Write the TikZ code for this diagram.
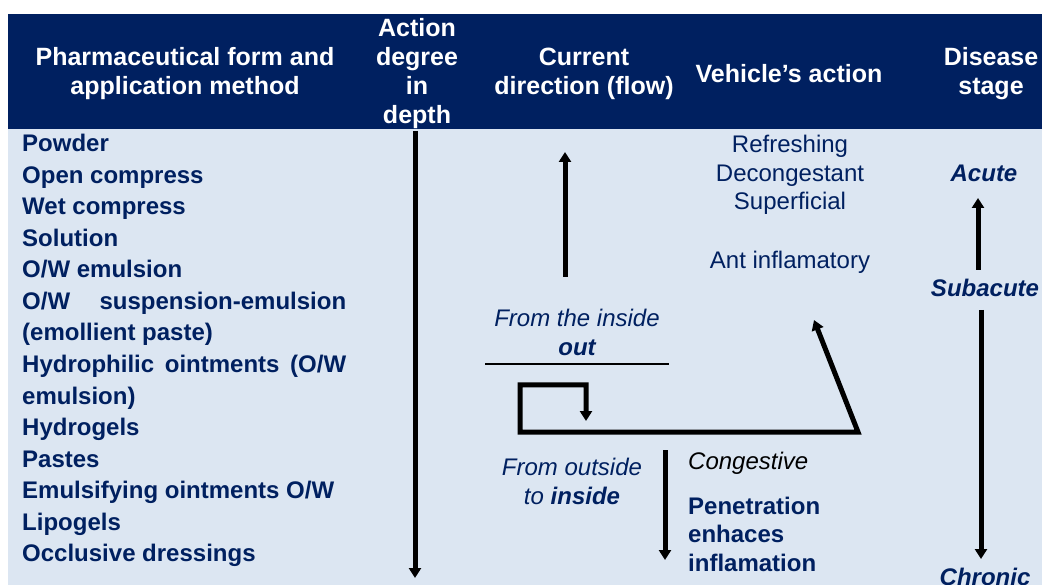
\documentclass[tikz,border=0pt]{standalone}
\usepackage{fontspec}
\setmainfont{Liberation Sans}
\usetikzlibrary{arrows.meta}
\definecolor{navy}{HTML}{002060}
\definecolor{paleblue}{HTML}{DCE6F2}
\tikzset{
    flow/.style={line width=5pt,-{Triangle[length=10pt,width=12pt]}},
    txt/.style={inner sep=0pt,text=navy,font=\fontsize{24}{28.5}\selectfont},
    hdr/.style={inner sep=0pt,text=white,align=center,font=\bfseries\fontsize{25}{29}\selectfont}
}
\begin{document}
\begin{tikzpicture}[x=1pt,y=-1pt]
\useasboundingbox (0,0) rectangle (1042,585);
\fill[white] (0,0) rectangle (1042,585);
\fill[navy] (8,14) rectangle (1042,129);
\fill[paleblue] (8,129) rectangle (1042,585);
% header
\node[hdr] (hform) at (185,74) {Pharmaceutical form and\\application method};
\node[hdr] (hdepth) at (417,74) {Action\\degree\\in\\depth};
\node[hdr] (hflow) at (584,74) {Current\\direction (flow)};
\node[hdr] (hvehicle) at (789,74) {Vehicle’s action};
\node[hdr] (hstage) at (991,74) {Disease\\stage};
% forms
\foreach \i/\t in {0/Powder, 1/Open compress, 2/Wet compress, 3/Solution, 4/{O/W emulsion},
    5/{\makebox[324pt][s]{O/W\hfill suspension-emulsion}}, 6/(emollient paste),
    7/{\makebox[324pt][s]{Hydrophilic\hfill ointments\hfill (O/W}}, 8/emulsion), 9/Hydrogels,
    10/Pastes, 11/{Emulsifying ointments O/W}, 12/Lipogels, 13/Occlusive dressings}{
    \node[txt,font=\bfseries\fontsize{24}{28.5}\selectfont,anchor=base west] (form\i) at (22,152+31.5*\i) {\t};
}
% depth
\coordinate (dtop) at (415,131);
\coordinate (dbot) at (415,578);
\draw[flow] (dtop) -- (dbot);
% current direction
\coordinate (otail) at (565,277);
\coordinate (ohead) at (565,152);
\draw[flow] (otail) -- (ohead);
\node[txt,align=center,font=\itshape\fontsize{24}{29}\selectfont] (inout) at (577,332) {From the inside\\\textbf{out}};
\coordinate (sepl) at (485,364);
\coordinate (sepr) at (669,364);
\draw[line width=2pt] (sepl) -- (sepr);
\coordinate (l1) at (586,421);
\coordinate (l2) at (586,385);
\coordinate (l3) at (520,385);
\coordinate (l4) at (520,432);
\coordinate (l5) at (858,432);
\coordinate (l6) at (814,320);
\draw[line width=5pt,{Triangle[length=10pt,width=12pt]}-{Triangle[length=10pt,width=12pt]}] (l1) -- (l2) -- (l3) -- (l4) -- (l5) -- (l6);
\node[txt,align=center,font=\itshape\fontsize{24}{29}\selectfont] (outin) at (572,481) {From outside\\to \textbf{inside}};
\coordinate (itail) at (665,450);
\coordinate (ihead) at (665,560);
\draw[flow] (itail) -- (ihead);
% vehicle
\node[txt,align=center] (vtop) at (790,175) {Refreshing\\Decongestant\\Superficial};
\node[txt] (vant) at (790,262) {Ant inflamatory};
\node[txt,text=black,anchor=west,font=\itshape\fontsize{24}{28.5}\selectfont] (cong) at (688,463) {Congestive};
\node[txt,anchor=west,align=left,font=\bfseries\fontsize{24}{28.5}\selectfont] (pen) at (688,534) {Penetration\\enhaces\\inflamation};
% stage
\node[txt,font=\bfseries\itshape\fontsize{24}{28.5}\selectfont] (acute) at (984,173) {Acute};
\node[txt,font=\bfseries\itshape\fontsize{24}{28.5}\selectfont] (subacute) at (985,288) {Subacute};
\node[txt,font=\bfseries\itshape\fontsize{24}{28.5}\selectfont] (chronic) at (985,577) {Chronic};
\coordinate (atail) at (978,270);
\coordinate (ahead) at (978,198);
\draw[flow] (atail) -- (ahead);
\coordinate (ctail) at (981,310);
\coordinate (chead) at (981,559);
\draw[flow] (ctail) -- (chead);
\end{tikzpicture}
\end{document}
